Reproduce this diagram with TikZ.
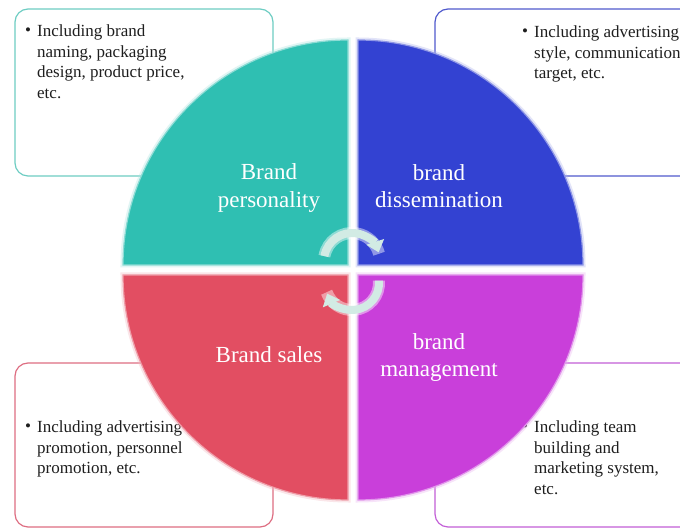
\documentclass[tikz,border=0pt]{standalone}
\usepackage{fontspec}
\setmainfont{Liberation Serif}
\usetikzlibrary{arrows.meta}
\definecolor{qteal}{RGB}{47,191,178}
\definecolor{qblue}{RGB}{51,66,210}
\definecolor{qred}{RGB}{226,78,98}
\definecolor{qmag}{RGB}{201,63,218}
\definecolor{bteal}{RGB}{110,205,195}
\definecolor{bblue}{RGB}{80,90,205}
\definecolor{bred}{RGB}{222,110,130}
\definecolor{bmag}{RGB}{195,95,215}
\definecolor{arcc}{RGB}{210,235,228}
\definecolor{txt}{RGB}{30,30,30}
\begin{document}
\begin{tikzpicture}[x=1pt,y=1pt,
  infobox/.style={line width=1.2pt, rounded corners=13pt},
  boxtext/.style={font=\fontsize{17}{20.7}\selectfont, align=left, inner sep=0pt, text=txt},
  qlabel/.style={font=\fontsize{23}{27.5}\selectfont, align=center, inner sep=0pt, text=white},
  glow/.style={line width=5pt, opacity=0.35},
  rim/.style={line width=1.2pt},
  cyc/.style={draw=arcc, line width=8pt, -{Triangle[width=18pt,length=11pt]}},
  cycglow/.style={draw=white, line width=12pt, opacity=0.45}
]
\useasboundingbox (0,0) rectangle (680,529);
\clip (0,0) rectangle (680,529);
\fill[white] (0,0) rectangle (680,529);

% boxes
\draw[infobox, draw=bteal] (15,353) rectangle (273,520);
\draw[infobox, draw=bblue] (435,353) rectangle (720,520);
\draw[infobox, draw=bred] (15,2) rectangle (273,166);
\draw[infobox, draw=bmag] (435,2) rectangle (720,166);

% box texts
\node[boxtext, anchor=base west] (b1) at (25,493) {\textbullet};
\node[boxtext, anchor=north west] (t1) at (37,504.5) {Including brand\\naming, packaging\\design, product price,\\etc.};
\node[boxtext, anchor=base west] (b2) at (522,492) {\textbullet};
\node[boxtext, anchor=north west] (t2) at (534,503.5) {Including advertising\\style, communication\\target, etc.};
\node[boxtext, anchor=base west] (b3) at (25,97) {\textbullet};
\node[boxtext, anchor=north west] (t3) at (37,108.5) {Including advertising\\promotion, personnel\\promotion, etc.};
\node[boxtext, anchor=base west] (b4) at (522,97) {\textbullet};
\node[boxtext, anchor=north west] (t4) at (534,108.5) {Including team\\building and\\marketing system,\\etc.};

% quadrants
\def\qtl{(348,264) -- (123,264) arc[start angle=180, end angle=90, radius=225] -- cycle}
\def\qtr{(358,264) -- (358,489) arc[start angle=90, end angle=0, radius=225] -- cycle}
\def\qbl{(348,254) -- (348,29) arc[start angle=270, end angle=180, radius=225] -- cycle}
\def\qbr{(358,254) -- (583,254) arc[start angle=0, end angle=-90, radius=225] -- cycle}
\draw[glow, draw=qteal!40] \qtl;
\draw[glow, draw=qblue!40] \qtr;
\draw[glow, draw=qred!40] \qbl;
\draw[glow, draw=qmag!40] \qbr;
\fill[qteal] \qtl;
\fill[qblue] \qtr;
\fill[qred] \qbl;
\fill[qmag] \qbr;
\draw[rim, draw=qteal!55!white] \qtl;
\draw[rim, draw=qblue!55!white] \qtr;
\draw[rim, draw=qred!55!white] \qbl;
\draw[rim, draw=qmag!55!white] \qbr;

% labels
\node[qlabel] (l1) at (269,341) {Brand\\personality};
\node[qlabel] (l2) at (439,343) {brand\\dissemination};
\node[qlabel, anchor=base] (l3) at (269,166) {Brand sales};
\node[qlabel] (l4) at (439,171.3) {brand\\management};

% cycle arrows
\coordinate (c1) at (352,268);
\coordinate (c2) at (352,246);
\draw[cycglow] ([shift={(170:28)}]c1) arc[start angle=170, end angle=15, radius=28];
\draw[cycglow] ([shift={(5:27)}]c2) arc[start angle=5, end angle=-160, radius=27];
\draw[cyc] ([shift={(170:28)}]c1) arc[start angle=170, end angle=18, radius=28];
\draw[cyc] ([shift={(5:27)}]c2) arc[start angle=5, end angle=-157, radius=27];
\end{tikzpicture}
\end{document}
